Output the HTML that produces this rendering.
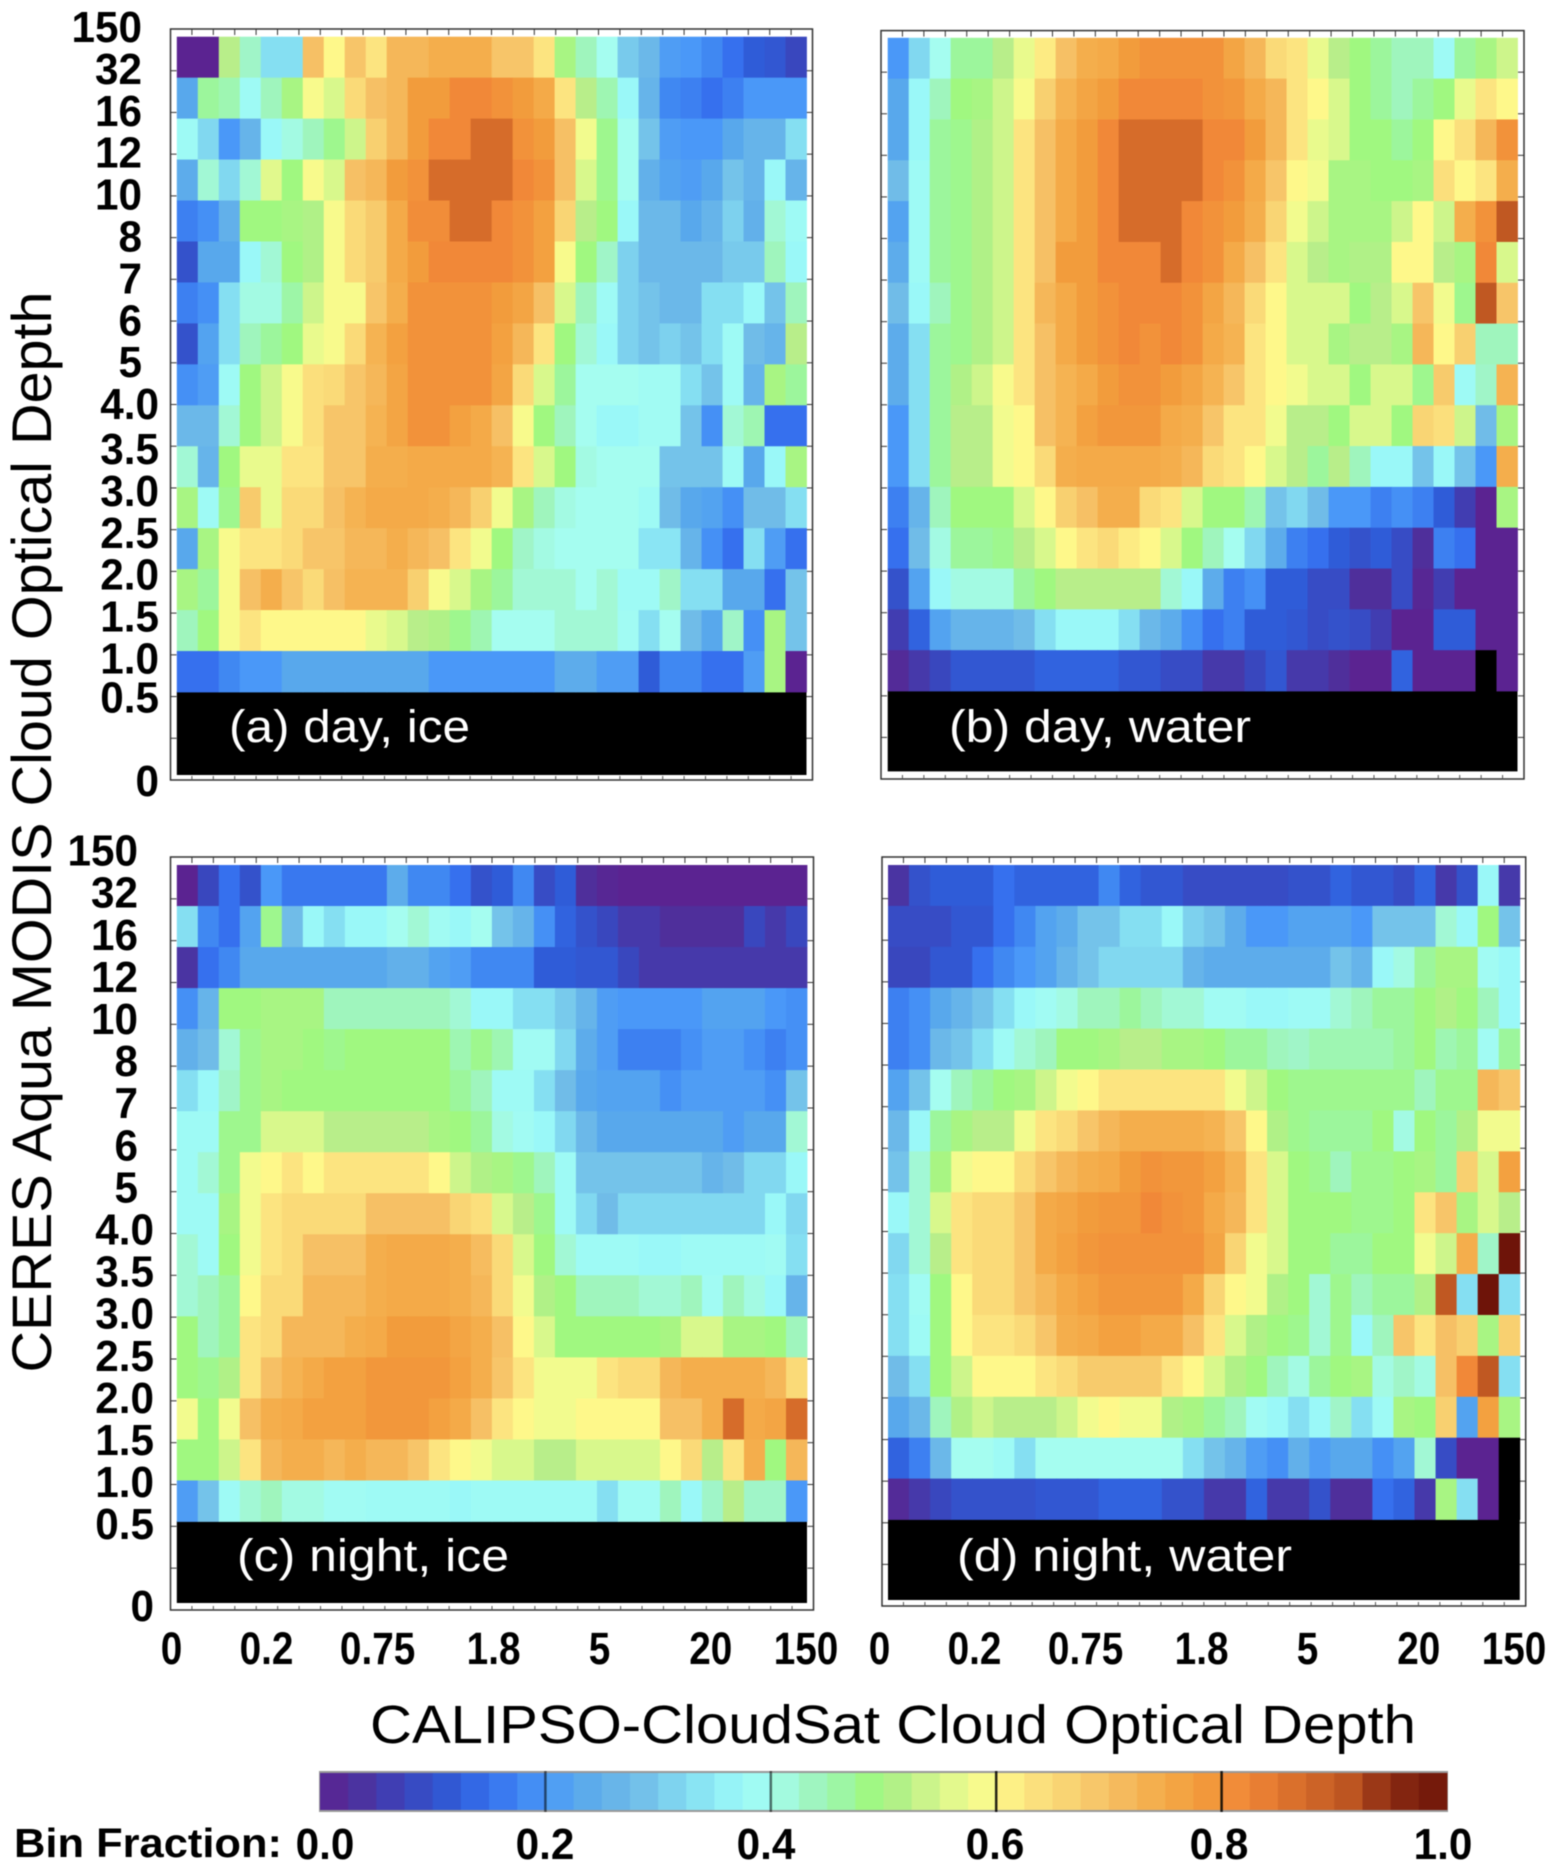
<!DOCTYPE html>
<html lang="en">
<head>
<meta charset="utf-8">
<title>Cloud Optical Depth Joint Histograms</title>
<style>
html,body{margin:0;padding:0;background:#fff;}
svg{display:block;filter:blur(0.5px);}
text{font-family:"Liberation Sans",sans-serif;fill:#000;}
.tick{font-weight:bold;}
</style>
</head>
<body>
<svg id="chart" xmlns="http://www.w3.org/2000/svg" width="1552" height="1872" viewBox="0 0 1552 1872"></svg>
<script>
// Bin fraction in hundredths, rows from top (CERES 32-150) to bottom (0.5-1.0), columns left to right.
const dayIce = [
[0,0,52,43,33,33,70,60,69,63,72,72,74,74,74,69,69,63,50,44,40,30,27,21,20,18,15,12,11,8],
[23,47,45,38,44,50,59,55,65,70,72,78,78,82,82,80,78,75,63,52,45,37,26,18,17,15,17,20,20,20],
[38,32,20,26,37,41,44,48,54,67,72,78,82,82,87,87,80,78,70,58,48,40,29,21,20,20,23,26,26,33],
[24,42,32,42,56,49,59,55,70,72,78,80,87,87,87,87,82,80,70,55,48,40,25,22,21,23,29,26,37,26],
[17,19,25,49,49,50,51,59,65,68,75,81,81,87,87,82,80,77,66,52,49,37,27,27,23,26,31,25,42,38],
[10,23,23,37,42,49,51,59,65,68,75,78,82,82,82,82,80,77,59,49,43,31,27,27,27,27,30,30,44,37],
[17,19,33,41,41,46,54,59,59,69,74,80,80,80,80,78,76,70,55,44,38,31,29,27,27,33,33,37,29,44],
[10,22,33,44,47,49,57,59,65,73,77,80,80,80,80,77,72,63,49,42,37,31,29,31,29,33,38,28,26,52],
[19,21,38,49,54,59,64,65,69,72,76,80,80,80,80,76,65,55,47,40,40,40,39,39,33,29,38,26,50,47],
[27,27,42,49,54,59,64,69,69,73,76,80,80,77,75,70,59,49,44,40,37,37,39,39,29,19,42,45,15,15],
[42,26,49,57,57,63,63,69,69,74,74,75,75,75,75,73,63,55,49,41,40,40,40,29,29,29,38,23,37,50],
[50,38,48,68,57,65,65,70,73,75,75,75,74,72,67,58,50,44,41,40,40,40,38,28,23,22,19,28,28,33],
[23,50,59,63,63,65,69,69,72,72,74,72,70,63,58,49,43,41,40,40,40,40,34,34,26,19,15,33,21,15],
[50,47,59,70,74,69,65,70,73,73,73,67,59,55,50,47,42,42,42,40,42,38,38,43,33,33,23,23,15,29],
[44,49,59,63,60,60,60,60,60,57,55,52,51,48,45,40,40,40,42,42,42,39,33,40,28,23,43,19,50,29],
[15,15,18,20,20,23,23,23,23,23,23,23,20,20,20,20,20,20,24,24,21,21,12,18,18,15,15,21,50,0]
];
const dayWater = [
[20,32,40,47,47,52,57,62,70,74,75,78,80,80,80,80,76,72,65,63,57,52,49,47,44,44,38,47,50,54],
[23,37,44,49,50,54,59,67,73,76,78,82,82,82,82,80,79,75,72,63,60,55,49,47,44,47,49,57,63,60],
[23,37,47,48,51,54,63,70,75,78,82,87,87,87,87,82,82,78,72,63,57,55,49,49,47,49,60,64,72,80],
[28,38,47,48,51,54,63,70,75,78,82,87,87,87,87,82,80,75,69,60,58,50,50,49,49,50,64,60,63,74],
[22,38,47,48,51,54,63,70,75,78,82,87,87,87,82,80,78,74,66,58,54,50,50,50,54,60,54,74,80,91],
[24,38,47,48,51,54,63,70,78,78,82,82,82,87,82,80,75,70,63,55,52,50,51,51,60,60,52,50,82,55],
[28,37,44,48,51,54,63,72,75,78,80,82,82,82,80,76,72,65,60,55,55,55,49,52,55,69,58,48,91,69],
[24,33,47,48,51,54,63,70,75,78,80,82,80,82,80,75,73,63,60,55,55,50,52,52,50,72,60,67,44,44],
[24,33,47,51,54,59,63,70,73,75,78,80,80,78,76,73,69,63,60,58,55,55,49,55,55,48,68,38,43,73],
[20,33,47,52,52,58,60,70,73,77,79,79,79,75,74,69,63,63,58,52,52,49,55,55,49,66,64,54,28,50],
[20,33,47,52,52,58,60,65,74,75,75,75,75,74,72,65,63,60,55,52,47,52,44,37,37,29,37,29,20,74],
[17,26,44,49,49,49,55,60,67,70,74,74,65,63,55,49,49,45,29,32,28,20,20,17,19,17,12,6,0,50],
[15,28,41,47,47,48,52,55,60,63,65,62,60,55,49,44,40,32,24,17,15,12,10,12,9,3,17,15,0,0],
[10,22,37,41,41,41,47,49,52,52,52,52,52,42,37,24,17,19,12,12,9,9,3,3,9,1,6,0,0,0],
[6,13,22,26,26,26,28,33,37,37,37,33,27,24,19,15,17,12,12,11,9,10,9,6,0,0,12,12,0,0],
[2,5,8,11,11,11,11,13,13,13,13,11,11,9,9,5,5,8,11,5,5,3,0,0,13,0,0,0,null,0]
];
const nightIce = [
[0,8,15,10,20,16,16,16,16,16,24,18,18,15,10,12,18,9,12,3,1,0,0,0,0,0,0,0,0,0],
[33,18,15,22,48,28,37,33,37,37,40,42,39,37,40,29,26,19,13,10,8,5,5,3,3,3,3,8,5,8],
[4,15,18,23,23,23,23,23,23,23,25,25,22,21,18,18,18,12,12,11,11,8,5,5,5,5,5,5,5,5],
[19,26,49,49,50,50,50,44,44,44,44,44,44,42,37,37,33,33,30,26,21,20,20,20,20,22,22,22,20,19],
[25,28,42,48,50,50,49,48,49,49,49,49,49,45,48,45,39,39,32,24,21,17,17,17,19,21,21,19,17,19],
[33,37,43,48,50,49,49,49,49,49,49,49,49,47,44,38,38,33,28,23,22,22,22,19,21,21,21,21,19,29],
[38,38,48,48,55,55,55,52,52,52,52,52,50,49,47,41,39,37,32,27,23,23,23,23,23,23,21,23,23,42],
[38,42,48,58,60,63,60,63,63,63,63,63,60,54,51,50,48,44,38,29,29,29,29,29,29,26,28,32,32,37],
[38,38,50,58,63,65,65,65,65,70,70,70,70,66,64,55,52,48,38,32,28,32,32,32,32,32,32,32,37,32],
[42,38,49,58,63,65,70,70,70,74,75,75,75,74,71,65,55,49,42,38,38,38,37,37,38,38,38,38,39,33],
[42,44,47,60,65,65,72,72,72,74,75,75,75,74,72,65,58,51,49,44,44,44,42,42,44,39,44,41,37,26],
[49,44,47,63,65,72,72,72,74,75,78,78,78,76,74,70,60,55,49,49,49,49,49,50,55,55,50,50,49,44],
[49,48,51,63,70,73,75,77,77,79,79,79,79,77,74,69,63,58,58,58,63,65,65,72,74,74,74,74,72,65],
[58,49,58,70,74,75,77,77,77,79,79,79,77,75,70,63,60,58,58,60,60,60,60,70,70,74,87,75,76,87],
[49,49,54,63,72,74,74,72,74,72,72,69,63,60,58,55,55,52,52,55,55,55,55,60,65,52,63,74,49,72],
[21,29,38,42,44,41,41,39,39,38,38,38,38,37,38,38,38,38,38,38,33,39,39,44,37,43,52,43,43,20]
];
const nightWater = [
[4,10,12,12,12,15,13,13,13,13,18,13,11,11,9,9,9,9,9,10,10,13,11,11,9,13,5,10,37,5],
[9,9,9,11,11,15,18,22,24,29,29,33,33,37,31,29,24,20,20,22,22,22,20,29,29,29,42,37,49,29],
[8,8,11,11,15,18,20,22,26,29,32,32,32,32,26,24,24,24,24,24,24,29,26,37,41,47,50,50,39,37],
[17,19,23,26,29,33,37,39,41,44,44,47,44,42,42,39,39,37,37,38,38,42,44,47,47,49,51,49,44,37],
[17,19,27,29,33,38,42,44,49,49,50,52,52,50,50,49,47,47,44,43,45,45,45,45,47,49,45,47,39,47],
[22,29,40,44,47,49,50,54,58,60,63,63,63,63,63,63,58,54,49,48,48,48,48,48,48,44,48,48,72,69],
[27,37,47,50,52,52,58,63,65,69,72,74,74,74,74,73,69,60,51,48,47,47,47,49,41,49,47,51,58,58],
[29,42,50,58,60,60,65,69,72,74,75,78,80,79,79,77,73,63,55,49,48,44,48,48,49,50,47,67,55,77],
[37,42,55,63,65,65,69,75,76,78,79,79,82,80,79,75,72,63,55,49,49,49,48,48,49,63,69,50,55,52],
[32,42,52,63,65,65,69,75,77,79,80,80,80,80,80,76,66,58,55,49,49,47,47,49,49,58,54,74,43,100],
[33,39,49,60,65,65,69,72,75,77,79,79,79,79,75,66,60,58,51,49,42,48,44,47,47,51,91,33,100,33],
[33,38,49,60,63,63,65,69,74,75,77,77,75,75,70,63,55,51,49,48,42,48,37,44,69,63,70,67,50,67],
[28,33,49,54,60,60,60,63,65,68,68,68,68,63,60,55,51,49,44,41,47,49,50,41,43,41,70,82,91,33],
[23,27,44,51,54,52,52,52,54,58,60,58,58,51,50,47,44,39,37,33,37,43,33,38,50,49,67,22,77,50],
[13,17,27,40,40,38,33,40,40,40,40,40,40,40,33,29,26,21,19,25,21,23,23,19,22,42,9,0,0,null],
[2,5,8,10,10,10,10,11,11,11,13,13,13,10,10,5,5,13,5,5,10,3,3,15,13,5,50,33,0,null]
];
const yTickLabels = ["150","32","16","12","10","8","7","6","5","4.0","3.5","3.0","2.5","2.0","1.5","1.0","0.5"];
const yZeroLabel = "0";
const xTickLabels = ["0","0.2","0.75","1.8","5","20","150"];
const xTickBins = [0,4.44,9.63,15.05,20,25.2,29.65];
const colorbarTicks = [0,0.2,0.4,0.6,0.8,1];
const colorbarTickLabels = ["0.0","0.2","0.4","0.6","0.8","1.0"];
const scaleValues = [0,3,7,12,15,18,20,23,28,33,37,40,43,47,49,52,55,58,60,63,67,70,74,78,82,87,91,95,100];
const scaleColors = ["#5b2391","#4f2f9b","#3c42b8","#2f5cd8","#3670ee","#4088f2","#4a98f8","#58a8ec","#70bce8","#85dff2","#9af8f8","#a5fdf0","#a0f5c8","#9cf69c","#a0f880","#b8ee8a","#d8f88c","#f2fb8e","#fef88a","#fce480","#f8d070","#f6c065","#f4ae4c","#f29c3c","#f18838","#d66c2a","#c05822","#8a2a12","#6e1409"];

const NS = "http://www.w3.org/2000/svg";
const svg = document.getElementById("chart");
function make(tag, attrs, parent) {
  const el = document.createElementNS(NS, tag);
  for (const k in attrs) el.setAttribute(k, attrs[k]);
  (parent || svg).appendChild(el);
  return el;
}
function hexRgb(h) { return [1,3,5].map(i => parseInt(h.slice(i, i + 2), 16)); }
function colorOf(v) {
  if (v === null) return "#000";
  let i = 0;
  while (i < scaleValues.length - 2 && v > scaleValues[i + 1]) i++;
  const t = Math.min(1, Math.max(0, (v - scaleValues[i]) / (scaleValues[i + 1] - scaleValues[i])));
  const a = hexRgb(scaleColors[i]), b = hexRgb(scaleColors[i + 1]);
  return "rgb(" + a.map((c, n) => Math.round(c + (b[n] - c) * t)).join(",") + ")";
}
function tickText(parent, str, x, y, size, sx, anchor) {
  const t = make("text", {transform: "translate(" + x + "," + y + ") scale(" + sx + ",1)", "font-size": size, "font-weight": "bold", "text-anchor": anchor}, parent);
  t.textContent = str;
  return t;
}

const panels = [
 {id:"a", grid:dayIce, label:"(a) day, ice", cl:176.8, cr:806.5, ct:36.7, cb:692, bb:775, fl:170.5, fr:812.5, ft:29, fb:780, lx:229, lw:241, ly:742, tickRight:142, tickRight2:159, y0:26, dy:41.9, yz:780, nudge:3, showX:false, showY:true},
 {id:"b", grid:dayWater, label:"(b) day, water", cl:887.7, cr:1517.5, ct:37.8, cb:691, bb:771.4, fl:881, fr:1524, ft:30.6, fb:779, lx:949, lw:302, ly:742, showX:false, showY:false},
 {id:"c", grid:nightIce, label:"(c) night, ice", cl:176.8, cr:807, ct:865, cb:1521.5, bb:1603, fl:170.5, fr:813.5, ft:857, fb:1610, lx:237, lw:272, ly:1571, tickRight:138, tickRight2:154, y0:849.6, dy:42.1, yz:1605, nudge:0, showX:true, showY:true, xl:171.5},
 {id:"d", grid:nightWater, label:"(d) night, water", cl:888, cr:1519.8, ct:865, cb:1519.5, bb:1600, fl:882, fr:1525.7, ft:857, fb:1606, lx:957, lw:335, ly:1571, showX:true, showY:false, xl:879.5}
];

panels.forEach(function (p) {
  const g = make("g", {});
  
  
  const frame = make("rect", {x:p.fl, y:p.ft, width:p.fr - p.fl, height:p.fb - p.ft, fill:"#fff", stroke:"#333", "stroke-width":1.5}, g);
  
  

  const rows = p.grid.length, cols = p.grid[0].length;
  const xScale = c => p.cl + c * (p.cr - p.cl) / cols;
  const yScale = r => p.ct + r * (p.cb - p.ct) / rows;

  const tx = (p.fr - p.fl) / 30;
  for (let i = 1; i < 30; i++) {
    const x = p.fl + i * tx;
    const tt = make("line", {x1:x, x2:x, y1:p.ft, y2:p.ft + 6, stroke:"#333", "stroke-width":1}, g);
    
    
    const tb = make("line", {x1:x, x2:x, y1:p.fb, y2:p.fb - 4, stroke:"#555", "stroke-width":1}, g);
    
    
  }
  const ty = (p.fb - p.ft) / 18;
  for (let i = 1; i < 18; i++) {
    const y = p.ft + i * ty;
    const tl = make("line", {x1:p.fl, x2:p.fl + 6, y1:y, y2:y, stroke:"#333", "stroke-width":1}, g);
    
    
    const tr = make("line", {x1:p.fr, x2:p.fr - 6, y1:y, y2:y, stroke:"#333", "stroke-width":1}, g);
    
    
  }

  const black = make("rect", {x:p.cl, y:p.cb - 0.5, width:p.cr - p.cl, height:p.bb - p.cb + 0.5, fill:"#000"}, g);
  
  

  p.grid.forEach(function (row, r) {
    row.forEach(function (v, c) {
      const cell = make("rect", {x:xScale(c), y:yScale(r), width:xScale(c + 1) - xScale(c) + 0.4, height:yScale(r + 1) - yScale(r) + 0.4, fill:colorOf(v)}, g);
      
      
    });
  });

  const lab = make("text", {x:p.lx, y:p.ly, "font-size":45, textLength:p.lw, lengthAdjust:"spacingAndGlyphs", style:"fill:#fff"}, g);
  lab.textContent = p.label;
  
  

  if (p.showY) {
    yTickLabels.forEach(function (s, i) {
      const right = s.indexOf(".") >= 0 ? p.tickRight2 : p.tickRight;
      const shift = (i >= 10 && i <= 15) ? p.nudge : 0;
      const yl = tickText(g, s, right, p.y0 + i * p.dy + 16 + shift, 44, 0.96, "end");
      
      
    });
    const z = tickText(g, yZeroLabel, p.tickRight2, p.yz + 16, 44, 0.96, "end");
    
    
  }
  if (p.showX) {
    xTickLabels.forEach(function (s, i) {
      const xl = tickText(g, s, p.xl + xTickBins[i] * 21.4, 1664, 45, 0.86, "middle");
      
      
    });
  }
});

const yTitle = make("text", {transform:"translate(51,832) rotate(-90)", "font-size":56, "text-anchor":"middle", textLength:1081, lengthAdjust:"spacingAndGlyphs"});
yTitle.textContent = "CERES Aqua MODIS Cloud Optical Depth";



const xTitle = make("text", {x:370, y:1743, "font-size":54, textLength:1046, lengthAdjust:"spacingAndGlyphs"});
xTitle.textContent = "CALIPSO-CloudSat Cloud Optical Depth";



const barLeft = 320, barRight = 1447, barTop = 1773, barBottom = 1810, barSteps = 40;
const barX = f => barLeft + f * (barRight - barLeft);
const bar = make("g", {});


const barEdge = make("rect", {x:barLeft - 1, y:barTop - 2, width:barRight - barLeft + 2, height:barBottom - barTop + 4, fill:"#999"}, bar);


for (let i = 0; i < barSteps; i++) {
  const step = make("rect", {x:barX(i / barSteps), y:barTop, width:(barRight - barLeft) / barSteps + 0.4, height:barBottom - barTop, fill:colorOf((i + 0.5) / barSteps * 100)}, bar);
  
  
}
colorbarTicks.forEach(function (f, i) {
  if (f > 0 && f < 1) {
    const m = make("line", {x1:barX(f), x2:barX(f), y1:barTop - 2, y2:barBottom + 2, stroke:"#000", "stroke-width":2.5, "stroke-opacity": f < 0.5 ? 0.55 : 0.85}, bar);
    
    
  }
  const labelShift = f === 0.4 ? -5 : (f === 0.2 ? -2 : (f === 0 ? 2 : 0));
  const t = tickText(bar, colorbarTickLabels[i], 323 + f * 1120 + labelShift, 1859, 44, 0.96, "middle");
  
  
});

const binTitle = make("text", {x:14, y:1857, "font-size":41, "font-weight":"bold", textLength:268, lengthAdjust:"spacingAndGlyphs"});
binTitle.textContent = "Bin Fraction:";


</script>
</body>
</html>
